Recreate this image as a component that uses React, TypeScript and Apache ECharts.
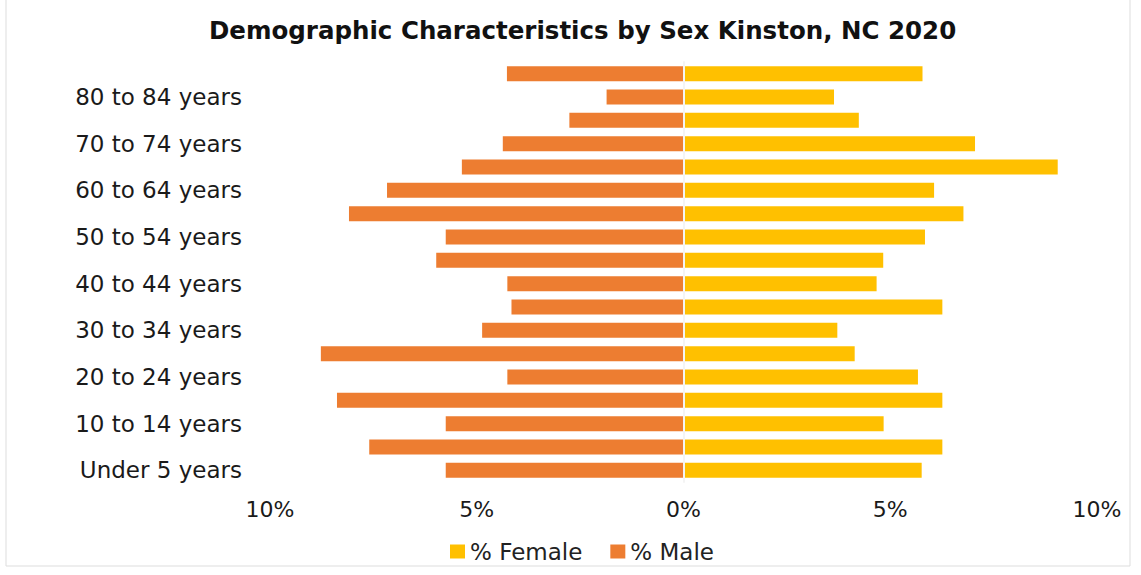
import React, { useEffect, useRef } from "react";
import * as echarts from "echarts";

// Age groups, youngest first (drawn bottom to top)
const ageGroups: string[] = [
  "Under 5 years",
  "5 to 9 years",
  "10 to 14 years",
  "15 to 19 years",
  "20 to 24 years",
  "25 to 29 years",
  "30 to 34 years",
  "35 to 39 years",
  "40 to 44 years",
  "45 to 49 years",
  "50 to 54 years",
  "55 to 59 years",
  "60 to 64 years",
  "65 to 69 years",
  "70 to 74 years",
  "75 to 79 years",
  "80 to 84 years",
  "85 years and over",
];

// Share of each sex's population in each age group (%)
const femalePct: number[] = [
  5.76, 6.26, 4.84, 6.26, 5.67, 4.14, 3.72, 6.26, 4.67, 4.83, 5.84, 6.77, 6.06,
  9.05, 7.05, 4.24, 3.64, 5.78,
];
const malePct: number[] = [
  5.75, 7.6, 5.75, 8.38, 4.26, 8.77, 4.87, 4.16, 4.26, 5.98, 5.75, 8.09, 7.17,
  5.36, 4.37, 2.76, 1.86, 4.27,
];

// Value axis ticks (male side drawn as negative values)
const axisMin = -10;
const axisMax = 10;
const axisStep = 5;

const FONT = "DejaVu Sans";

export default function App() {
  const ref = useRef<HTMLDivElement>(null);

  useEffect(() => {
    if (!ref.current) return;
    const chart = echarts.init(ref.current, undefined, { renderer: "svg" });
    chart.setOption({
      animation: false,
      backgroundColor: "#ffffff",
      title: {
        text: "Demographic Characteristics by Sex Kinston, NC 2020",
        left: 204,
        top: 13,
        textStyle: {
          fontFamily: FONT,
          fontWeight: "bold",
          fontSize: 24.5,
          color: "#111111",
        },
      },
      legend: {
        left: 445,
        top: 535,
        itemWidth: 15,
        itemHeight: 14,
        itemGap: 28,
        icon: "rect",
        data: ["% Female", "% Male"],
        textStyle: { fontFamily: FONT, fontSize: 23, color: "#222222" },
      },
      grid: { left: 270, right: 44, top: 62, bottom: 93 },
      xAxis: {
        type: "value",
        min: axisMin,
        max: axisMax,
        interval: axisStep,
        axisLine: { show: false },
        axisTick: { show: false },
        splitLine: { show: false },
        axisLabel: {
          margin: 16,
          fontFamily: FONT,
          fontSize: 22,
          color: "#1a1a1a",
          formatter: (v: number) => `${Math.abs(v)}%`,
        },
      },
      yAxis: {
        type: "category",
        data: ageGroups,
        z: 5,
        axisLine: { show: true, lineStyle: { color: "#f4f4f4", width: 2 } },
        axisTick: { show: false },
        axisLabel: {
          interval: 1,
          margin: 28,
          fontFamily: FONT,
          fontSize: 23,
          color: "#1a1a1a",
        },
      },
      series: [
        {
          name: "% Female",
          type: "bar",
          stack: "sex",
          barWidth: 15,
          itemStyle: { color: "#FFC000" },
          data: femalePct,
        },
        {
          name: "% Male",
          type: "bar",
          stack: "sex",
          barWidth: 15,
          itemStyle: { color: "#ED7D31" },
          data: malePct.map((v) => -v),
        },
      ],
      graphic: [
        {
          type: "rect",
          shape: { x: 6, y: -2, width: 1124, height: 568 },
          style: { fill: "none", stroke: "#dddddd", lineWidth: 1 },
          silent: true,
        },
      ],
    });
    return () => chart.dispose();
  }, []);

  return (
    <div
      ref={ref}
      style={{ position: "fixed", left: 0, top: 0, width: 1141, height: 575 }}
    />
  );
}
